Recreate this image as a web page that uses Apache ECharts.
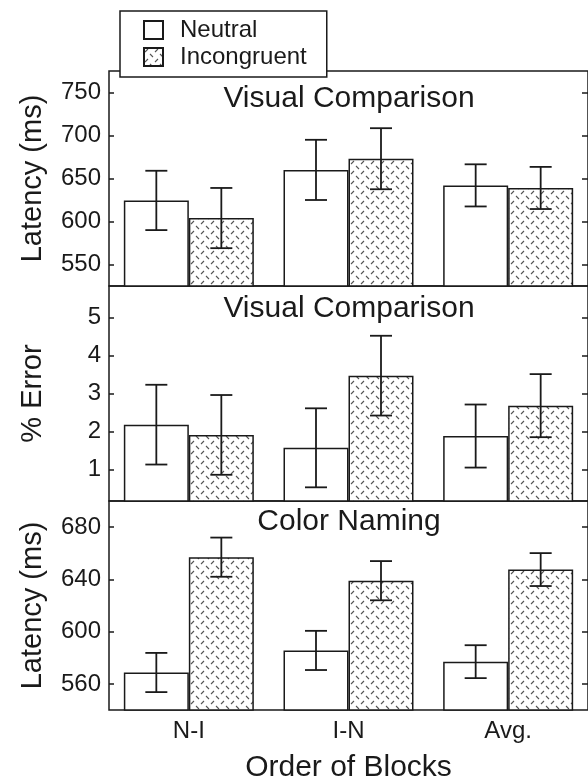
<!DOCTYPE html>
<html>
<head>
<meta charset="utf-8">
<script src="https://cdn.jsdelivr.net/npm/echarts@6/dist/echarts.min.js"></script>
<style>
  html, body { margin: 0; padding: 0; background: #fff; }
  #chart { width: 588px; height: 784px; }
</style>
</head>
<body>
<div id="chart"></div>
<script>
// data
const categories = ['N-I', 'I-N', 'Avg.'];
const seriesNames = ['Neutral', 'Incongruent'];
const panelTitles = ['Visual Comparison', 'Visual Comparison', 'Color Naming'];
const yNames = ['Latency (ms)', '% Error', 'Latency (ms)'];

const visLatencyNeutral = [624.5, 660, 642];
const visLatencyNeutralErr = [34.5, 35, 24.5];
const visLatencyIncong = [604, 673, 639];
const visLatencyIncongErr = [35, 35.5, 24.5];

const visErrorNeutral = [2.18, 1.57, 1.88];
const visErrorNeutralErr = [1.05, 1.04, 0.83];
const visErrorIncong = [1.91, 3.47, 2.68];
const visErrorIncongErr = [1.05, 1.05, 0.83];

const colorLatencyNeutral = [568.7, 585.6, 577];
const colorLatencyNeutralErr = [15, 15, 12.6];
const colorLatencyIncong = [657, 639, 647.5];
const colorLatencyIncongErr = [15, 15, 12.6];

const latencyTicks = [550, 600, 650, 700, 750];
const errorTicks = [1, 2, 3, 4, 5];
const colorTicks = [560, 600, 640, 680];

const FONT = 'Liberation Sans';
const INK = '#1a1a1a';
const BAR_W = 65;

// hatch for the incongruent bars
function makeHatch() {
    const c = document.createElement('canvas');
    c.width = 10;
    c.height = 10;
    const ctx = c.getContext('2d');
    ctx.fillStyle = '#fff';
    ctx.fillRect(0, 0, 10, 10);
    ctx.strokeStyle = '#555';
    ctx.lineWidth = 1.1;
    ctx.beginPath();
    ctx.moveTo(1, 4); ctx.lineTo(4, 1);
    ctx.moveTo(6, 6); ctx.lineTo(9, 9);
    ctx.stroke();
    return { image: c, repeat: 'repeat' };
}
const hatch = makeHatch();

const panels = [
    { top: 71, height: 215, min: 525, max: 775, ticks: latencyTicks,
      neutral: visLatencyNeutral, neutralErr: visLatencyNeutralErr,
      incong: visLatencyIncong, incongErr: visLatencyIncongErr, titleTop: 84 },
    { top: 286, height: 215, min: 0.17, max: 5.83, ticks: errorTicks,
      neutral: visErrorNeutral, neutralErr: visErrorNeutralErr,
      incong: visErrorIncong, incongErr: visErrorIncongErr, titleTop: 294 },
    { top: 501, height: 213, min: 540, max: 700, ticks: colorTicks,
      neutral: colorLatencyNeutral, neutralErr: colorLatencyNeutralErr,
      incong: colorLatencyIncong, incongErr: colorLatencyIncongErr, titleTop: 507 }
];

function errorBars(xi, yi, means, errs, offset) {
    return {
        type: 'custom',
        xAxisIndex: xi,
        yAxisIndex: yi,
        z: 10,
        silent: true,
        data: means.map((m, i) => [i, m, errs[i]]),
        encode: { x: 0, y: 1 },
        renderItem: (params, api) => {
            const c = api.value(0), m = api.value(1), e = api.value(2);
            const hi = api.coord([c, m + e]);
            const lo = api.coord([c, m - e]);
            const x = hi[0] + offset;
            const cap = 11;
            const style = { stroke: INK, lineWidth: 1.8 };
            return {
                type: 'group',
                children: [
                    { type: 'line', shape: { x1: x, y1: hi[1], x2: x, y2: lo[1] }, style },
                    { type: 'line', shape: { x1: x - cap, y1: hi[1], x2: x + cap, y2: hi[1] }, style },
                    { type: 'line', shape: { x1: x - cap, y1: lo[1], x2: x + cap, y2: lo[1] }, style }
                ]
            };
        }
    };
}

const grid = [], xAxis = [], yAxis = [], series = [], title = [];

panels.forEach((p, i) => {
    grid.push({
        left: 109, top: p.top, width: 480, height: p.height,
        show: true, borderColor: INK, borderWidth: 1.5, backgroundColor: 'transparent'
    });
    const last = i === panels.length - 1;
    xAxis.push({
        type: 'category', gridIndex: i, data: categories,
        axisLine: { show: false }, axisTick: { show: false },
        axisLabel: { show: last, margin: 9, color: INK, fontFamily: FONT, fontSize: 24 },
        name: last ? 'Order of Blocks' : '',
        nameLocation: 'middle', nameGap: 43,
        nameTextStyle: { color: INK, fontFamily: FONT, fontSize: 30 }
    });
    yAxis.push({
        type: 'value', gridIndex: i, min: p.min, max: p.max,
        splitLine: { show: false }, axisLine: { show: false },
        axisTick: { show: true, inside: true, length: 5, customValues: p.ticks,
                    lineStyle: { color: INK, width: 1.5 } },
        axisLabel: { customValues: p.ticks, margin: 8, color: INK, fontFamily: FONT, fontSize: 24 },
        name: yNames[i], nameLocation: 'middle', nameGap: 62,
        nameTextStyle: { color: INK, fontFamily: FONT, fontSize: 29 }
    });
    yAxis.push({
        type: 'value', gridIndex: i, min: p.min, max: p.max, position: 'right',
        splitLine: { show: false }, axisLine: { show: false },
        axisTick: { show: true, inside: true, length: 6, customValues: p.ticks,
                    lineStyle: { color: INK, width: 1.5 } },
        axisLabel: { show: false }
    });
    const yi = i * 2;
    series.push({
        name: seriesNames[0], type: 'bar', xAxisIndex: i, yAxisIndex: yi,
        barWidth: BAR_W, barGap: '0%', data: p.neutral,
        itemStyle: { color: '#fff', borderColor: INK, borderWidth: 1.5 },
        emphasis: { disabled: true }
    });
    series.push({
        name: seriesNames[1], type: 'bar', xAxisIndex: i, yAxisIndex: yi,
        barWidth: BAR_W, barGap: '0%', data: p.incong,
        itemStyle: { color: hatch, borderColor: INK, borderWidth: 1.5 },
        emphasis: { disabled: true }
    });
    series.push(errorBars(i, yi, p.neutral, p.neutralErr, -BAR_W / 2));
    series.push(errorBars(i, yi, p.incong, p.incongErr, BAR_W / 2));
    title.push({
        text: panelTitles[i], left: 349, top: p.titleTop, textAlign: 'center', padding: 0,
        textStyle: { color: INK, fontFamily: FONT, fontSize: 30, fontWeight: 'normal' }
    });
});

const chart = echarts.init(document.getElementById('chart'));
chart.setOption({
    animation: false,
    backgroundColor: '#fff',
    title,
    legend: {
        data: seriesNames, orient: 'vertical', left: 120, top: 11,
        padding: [7, 20, 8, 23], itemGap: 3, itemWidth: 19, itemHeight: 18,
        backgroundColor: '#fff', borderColor: INK, borderWidth: 1.5,
        icon: 'rect', z: 20,
        textStyle: { color: INK, fontFamily: FONT, fontSize: 24, padding: [0, 0, 0, 12] }
    },
    grid, xAxis, yAxis, series
});
window.addEventListener('resize', () => chart.resize());
</script>
</body>
</html>
